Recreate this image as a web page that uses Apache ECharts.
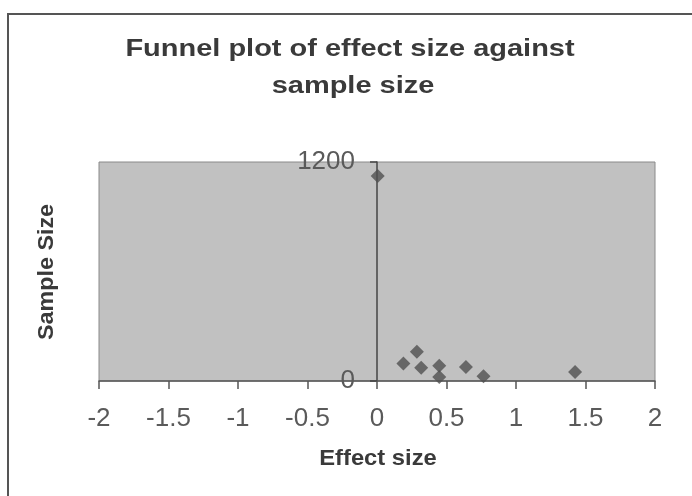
<!DOCTYPE html>
<html>
<head>
<meta charset="utf-8">
<script src="https://cdn.jsdelivr.net/npm/echarts@6/dist/echarts.min.js"></script>
<style>
  html, body { margin: 0; padding: 0; background: #fff; }
  #funnel { width: 692px; height: 496px; }
</style>
</head>
<body>
<div id="funnel"></div>
<script>
// effect size vs sample size
var effectSize = [0.005, 0.19, 0.287, 0.318, 0.448, 0.448, 0.64, 0.766, 1.425];
var sampleSize = [1123, 96, 160, 72, 83, 22, 77, 26, 50];
var xTicks = [-2, -1.5, -1, -0.5, 0, 0.5, 1, 1.5, 2];
var yTicks = [0, 1200];
var titleLines = ['Funnel plot of effect size against', 'sample size'];

var chartDom = document.getElementById('funnel');
var myChart = echarts.init(chartDom);

var points = [];
for (let i = 0; i < effectSize.length; i++) {
  points.push([effectSize[i], sampleSize[i]]);
}

var gridLeft = 99, gridRight = 37;
var plotW = 692 - gridLeft - gridRight;
// pixel distance from the left edge of the plot to x = 0
var zeroOffset = plotW * (0 - xTicks[0]) / (xTicks[xTicks.length - 1] - xTicks[0]);

var sans = 'Liberation Sans, Arial, sans-serif';
var narrow = 'Liberation Sans Narrow, Arial Narrow, Liberation Sans, sans-serif';

var option = {
  animation: false,
  backgroundColor: '#fff',
  grid: {
    left: gridLeft,
    right: gridRight,
    top: 162,
    bottom: 115,
    show: true,
    backgroundColor: '#c1c1c1',
    borderColor: '#8a8a8a',
    borderWidth: 1
  },
  xAxis: {
    type: 'value',
    min: xTicks[0],
    max: xTicks[xTicks.length - 1],
    interval: 0.5,
    axisLine: { onZero: false, lineStyle: { color: '#555', width: 1.5 } },
    axisTick: { inside: false, length: 8, lineStyle: { color: '#555', width: 1.5 } },
    axisLabel: { margin: 25, fontSize: 26, color: '#5a5a5a', fontFamily: narrow },
    splitLine: { show: false }
  },
  yAxis: {
    type: 'value',
    min: yTicks[0],
    max: yTicks[yTicks.length - 1],
    interval: 1200,
    offset: -zeroOffset,
    axisLine: { show: true, onZero: false, lineStyle: { color: '#444', width: 1.5 } },
    axisTick: { show: true, length: 7, lineStyle: { color: '#444', width: 1.5 } },
    axisLabel: {
      margin: 22,
      fontSize: 26,
      color: '#5a5a5a',
      fontFamily: narrow,
      formatter: function (v) { return String(v); }
    },
    splitLine: { show: false }
  },
  graphic: [
    {
      type: 'rect',
      shape: { x: 8, y: 14, width: 700, height: 500 },
      style: { fill: 'none', stroke: '#555', lineWidth: 2 },
      silent: true
    },
    {
      type: 'text',
      x: 350,
      y: 50,
      scaleX: 1.26,
      style: {
        text: titleLines[0],
        fontSize: 23,
        fontWeight: 'bold',
        fill: '#3a3a3a',
        align: 'center',
        verticalAlign: 'middle',
        fontFamily: sans
      }
    },
    {
      type: 'text',
      x: 353,
      y: 87,
      scaleX: 1.26,
      style: {
        text: titleLines[1],
        fontSize: 23,
        fontWeight: 'bold',
        fill: '#3a3a3a',
        align: 'center',
        verticalAlign: 'middle',
        fontFamily: sans
      }
    },
    {
      type: 'text',
      x: 47,
      y: 272,
      rotation: Math.PI / 2,
      scaleX: 1.06,
      style: {
        text: 'Sample Size',
        fontSize: 22,
        fontWeight: 'bold',
        fill: '#3a3a3a',
        align: 'center',
        verticalAlign: 'middle',
        fontFamily: sans
      }
    },
    {
      type: 'text',
      x: 378,
      y: 459,
      scaleX: 1.08,
      style: {
        text: 'Effect size',
        fontSize: 22,
        fontWeight: 'bold',
        fill: '#3a3a3a',
        align: 'center',
        verticalAlign: 'middle',
        fontFamily: sans
      }
    }
  ],
  series: [
    {
      name: 'Studies',
      type: 'scatter',
      symbol: 'diamond',
      symbolSize: 14,
      itemStyle: { color: '#505050' },
      data: points
    }
  ]
};

option && myChart.setOption(option);
</script>
</body>
</html>
